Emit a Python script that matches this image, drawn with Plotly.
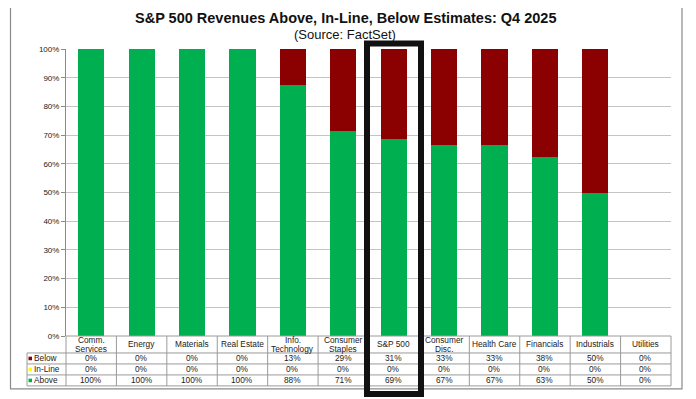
import math
import plotly.graph_objects as go

categories = ["Comm.<br>Services", "Energy", "Materials", "Real Estate", "Info.<br>Technology",
              "Consumer<br>Staples", "S&P 500", "Consumer<br>Disc.", "Health Care", "Financials",
              "Industrials", "Utilities"]
above = [100, 100, 100, 100, 87.5, 71.4, 68.8, 66.7, 66.7, 62.5, 50.0, 0]
inline = [0, 0, 0, 0, 0, 0, 0, 0, 0, 0, 0, 0]
below = [0, 0, 0, 0, 12.5, 28.6, 31.2, 33.3, 33.3, 37.5, 50.0, 0]
series_names = ["Below", "In-Line", "Above"]
y_ticks = [0, 10, 20, 30, 40, 50, 60, 70, 80, 90, 100]

GREEN = "#00B050"
RED = "#8B0000"
YELLOW = "#FFFF00"
FONT = "Liberation Sans, Arial, sans-serif"

OFF = 8  # page body margin
VW, VH = 696, 399
W, H = VW - OFF, VH - OFF
PL, PR, PT, PB = 66, 671, 48.5, 336
ML, MR, MT, MB = PL - OFF, W - (PR - OFF), PT - OFF, H - (PB - OFF)
PW = PR - PL
PH = PB - PT
N = len(categories)


def px(p):
    return (p - PL) / PW


def py(p):
    return (PB - p) / PH


def pct(v):
    return f"{int(math.floor(v + 0.5))}%"


xs = list(range(N))
fig = go.Figure()
for vals, col, nm in [(above, GREEN, "Above"), (inline, YELLOW, "In-Line"), (below, RED, "Below")]:
    fig.add_trace(go.Bar(x=xs, y=[v / 100 for v in vals], marker=dict(color=col, line=dict(width=0)),
                         width=0.52, name=nm))

shapes = []
ann = []
LINE = "#9A9A9A"
TXT = "#222"
FS = 8.3

row_label_top = PB
row_label_bot = 353
row_h = 11
rows_y = [row_label_bot + i * row_h for i in range(4)]
table_left = 27

shapes.append(dict(type="line", xref="paper", yref="paper", x0=0, x1=1, y0=py(row_label_top), y1=py(row_label_top),
                   line=dict(color=LINE, width=1)))
for yy in rows_y:
    shapes.append(dict(type="line", xref="paper", yref="paper", x0=px(table_left), x1=1, y0=py(yy), y1=py(yy),
                       line=dict(color=LINE, width=1)))
for i in range(N + 1):
    xp = px(PL + PW * i / N)
    shapes.append(dict(type="line", xref="paper", yref="paper", x0=xp, x1=xp, y0=py(row_label_top), y1=py(rows_y[-1]),
                       line=dict(color=LINE, width=1)))
shapes.append(dict(type="line", xref="paper", yref="paper", x0=px(table_left), x1=px(table_left),
                   y0=py(rows_y[0]), y1=py(rows_y[-1]), line=dict(color=LINE, width=1)))

for i, c in enumerate(categories):
    parts = c.split("<br>")
    if len(parts) == 1:
        ys = [(row_label_top + row_label_bot) / 2]
    else:
        ys = [340.5, 348.8]
    for part, yv in zip(parts, ys):
        ann.append(dict(x=i, xref="x", y=py(yv), yref="paper", text=part,
                        showarrow=False, font=dict(family=FONT, size=FS, color=TXT), align="center",
                        yanchor="middle", xanchor="center"))

row_values = [below, inline, above]
row_colors = [RED, YELLOW, GREEN]
for r in range(3):
    ymid = (rows_y[r] + rows_y[r + 1]) / 2
    yc = py(ymid)
    for i in range(N):
        ann.append(dict(x=i, xref="x", y=yc, yref="paper", text=pct(row_values[r][i]), showarrow=False,
                        font=dict(family=FONT, size=FS, color=TXT), xanchor="center", yanchor="middle"))
    ann.append(dict(x=px(table_left + 5), xref="paper", y=yc, yref="paper", text=series_names[r],
                    showarrow=False, font=dict(family=FONT, size=FS, color=TXT), xanchor="left",
                    yanchor="middle"))
    shapes.append(dict(type="rect", xref="paper", yref="paper", x0=px(table_left + 1.5), x1=px(table_left + 5),
                       y0=py(ymid + 1.8), y1=py(ymid - 1.8), fillcolor=row_colors[r], line=dict(width=0)))

shapes.append(dict(type="rect", xref="paper", yref="paper", x0=px(10.5), x1=px(682), y0=py(389), y1=py(5),
                   line=dict(color="#8A8A8A", width=1.2), fillcolor="rgba(0,0,0,0)"))

shapes.append(dict(type="rect", xref="paper", yref="paper", x0=px(367), x1=px(421), y0=py(394), y1=py(43),
                   line=dict(color="#111", width=6), fillcolor="rgba(0,0,0,0)"))

ann.append(dict(x=px(345), xref="paper", y=py(17.5), yref="paper", borderpad=0,
                text="<b>S&P 500 Revenues Above, In-Line, Below Estimates: Q4 2025</b>", showarrow=False,
                font=dict(family=FONT, size=14.5, color="#111"), xanchor="center", yanchor="middle"))
ann.append(dict(x=px(345), xref="paper", y=py(33.5), yref="paper", borderpad=0, text="(Source: FactSet)",
                showarrow=False, font=dict(family=FONT, size=13, color="#111"), xanchor="center",
                yanchor="middle"))

fig.update_layout(
    width=W, height=H, margin=dict(l=ML, r=MR, t=MT, b=MB),
    barmode="stack", showlegend=False, plot_bgcolor="white", paper_bgcolor="white",
    shapes=shapes, annotations=ann,
    xaxis=dict(range=[-0.5, N - 0.5], showticklabels=False, showgrid=False, zeroline=False, fixedrange=True),
    yaxis=dict(range=[0, 1], tickvals=[t / 100 for t in y_ticks], ticktext=[f"{t}%" for t in y_ticks],
               showgrid=True, gridcolor="#C4C4C4", gridwidth=1, zeroline=False,
               showline=True, linecolor="#8A8A8A", linewidth=1, ticks="outside", ticklen=4, tickcolor="#8A8A8A",
               tickfont=dict(family=FONT, size=8, color=TXT)),
)

fig.write_html("out.html")
